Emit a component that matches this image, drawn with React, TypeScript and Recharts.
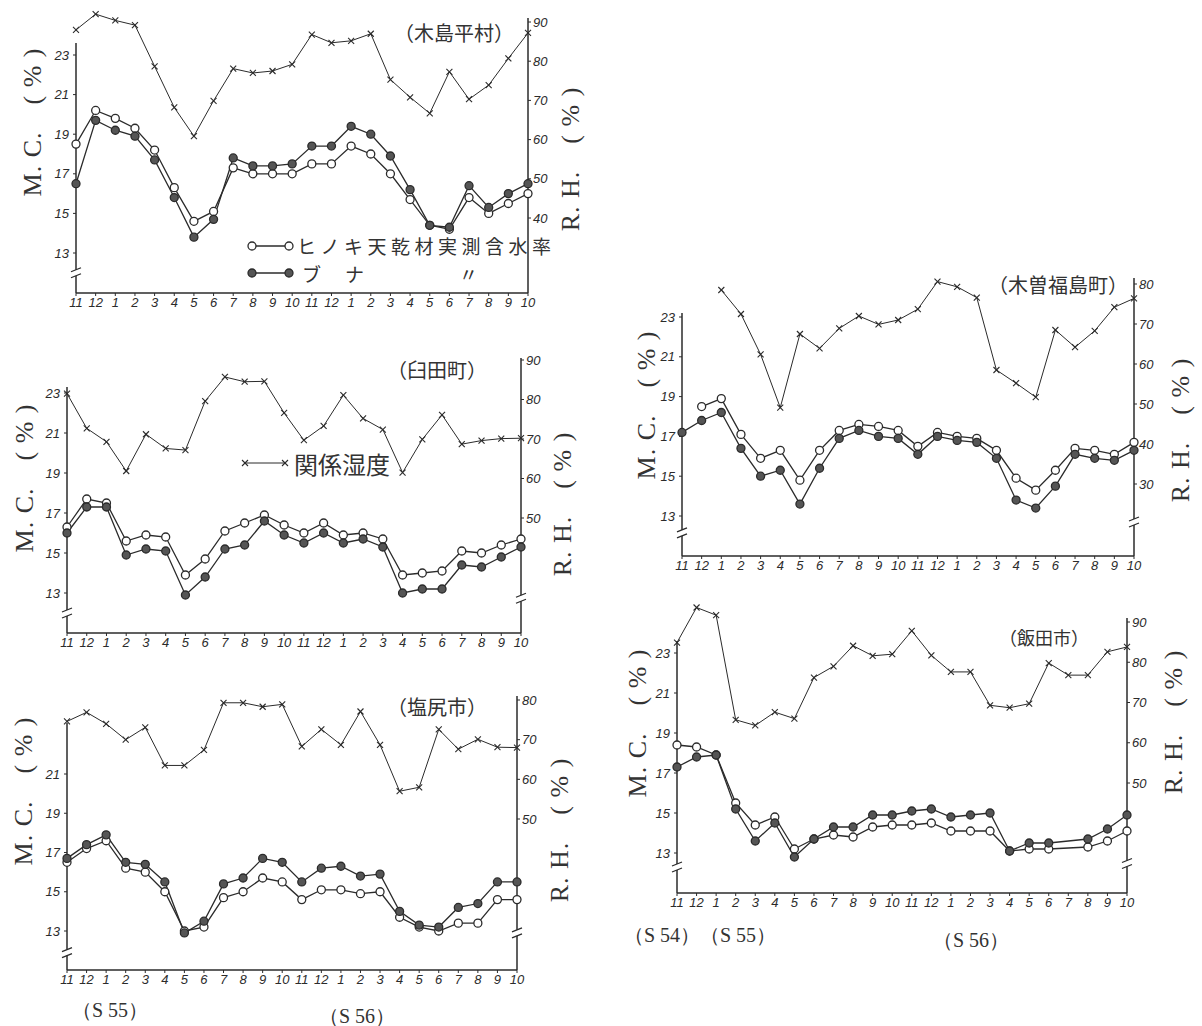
import React from 'react';
import { LineChart, Line, XAxis, YAxis, ReferenceLine, ReferenceDot } from 'recharts';

// months Nov (S54/55) .. Oct (S56), 24 points
const monthLabels = ['11', '12', '1', '2', '3', '4', '5', '6', '7', '8', '9', '10', '11', '12', '1', '2', '3', '4', '5', '6', '7', '8', '9', '10'];

// 木島平村
const kijimaHinoki = [18.5, 20.2, 19.8, 19.3, 18.2, 16.3, 14.6, 15.1, 17.3, 17.0, 17.0, 17.0, 17.5, 17.5, 18.4, 18.0, 17.0, 15.7, 14.4, 14.2, 15.8, 15.0, 15.5, 16.0];
const kijimaBuna = [16.5, 19.7, 19.2, 18.9, 17.7, 15.8, 13.8, 14.7, 17.8, 17.4, 17.4, 17.5, 18.4, 18.4, 19.4, 19.0, 17.9, 16.2, 14.4, 14.3, 16.4, 15.3, 16.0, 16.5];
const kijimaRH = [88.0, 92.0, 90.4, 89.2, 78.7, 68.2, 60.9, 69.9, 78.1, 77.0, 77.5, 79.2, 86.8, 84.7, 85.2, 87.0, 75.3, 70.8, 66.7, 77.3, 70.3, 73.9, 80.7, 87.2];

// 臼田町
const usudaHinoki = [16.3, 17.7, 17.5, 15.6, 15.9, 15.8, 13.9, 14.7, 16.1, 16.5, 16.9, 16.4, 16.0, 16.5, 15.9, 16.0, 15.7, 13.9, 14.0, 14.1, 15.1, 15.0, 15.4, 15.7];
const usudaBuna = [16.0, 17.3, 17.3, 14.9, 15.2, 15.1, 12.9, 13.8, 15.2, 15.4, 16.6, 15.9, 15.5, 16.0, 15.5, 15.7, 15.3, 13.0, 13.2, 13.2, 14.4, 14.3, 14.8, 15.3];
const usudaRH = [81.5, 72.7, 69.3, 61.9, 71.2, 67.6, 67.2, 79.6, 85.7, 84.5, 84.6, 76.6, 69.7, 73.3, 81.1, 75.2, 72.4, 61.5, 69.9, 76.1, 68.7, 69.6, 70.1, 70.2];

// 塩尻市
const shiojiriHinoki = [16.5, 17.2, 17.6, 16.2, 16.0, 15.0, 13.0, 13.2, 14.7, 15.0, 15.7, 15.5, 14.6, 15.1, 15.1, 14.9, 15.0, 13.7, 13.2, 13.0, 13.4, 13.4, 14.6, 14.6];
const shiojiriBuna = [16.7, 17.4, 17.9, 16.5, 16.4, 15.5, 12.9, 13.5, 15.4, 15.7, 16.7, 16.5, 15.5, 16.2, 16.3, 15.8, 15.9, 14.0, 13.3, 13.2, 14.2, 14.4, 15.5, 15.5];
const shiojiriRH = [74.6, 76.9, 74.0, 70.0, 73.1, 63.5, 63.5, 67.4, 79.3, 79.3, 78.3, 78.9, 68.3, 72.6, 68.7, 77.1, 68.7, 57.0, 58.0, 72.6, 67.6, 70.1, 68.1, 68.0];

// 木曽福島町
const kisoHinoki = [null, 18.5, 18.9, 17.1, 15.9, 16.3, 14.8, 16.3, 17.3, 17.6, 17.5, 17.3, 16.5, 17.2, 17.0, 16.9, 16.3, 14.9, 14.3, 15.3, 16.4, 16.3, 16.1, 16.7];
const kisoBuna = [17.2, 17.8, 18.2, 16.4, 15.0, 15.3, 13.6, 15.4, 16.9, 17.3, 17.0, 16.9, 16.1, 17.0, 16.8, 16.7, 15.9, 13.8, 13.4, 14.5, 16.1, 15.9, 15.8, 16.3];
const kisoRH = [null, null, 78.5, 72.5, 62.4, 49.1, 67.5, 63.9, 68.9, 72.0, 69.9, 71.0, 73.7, 80.6, 79.3, 76.6, 58.5, 55.2, 51.7, 68.5, 64.2, 68.3, 74.2, 76.4];

// 飯田市
const iidaHinoki = [18.4, 18.3, 17.9, 15.5, 14.4, 14.8, 13.2, 13.7, 13.9, 13.8, 14.3, 14.4, 14.4, 14.5, 14.1, 14.1, 14.1, 13.1, 13.2, 13.2, null, 13.3, 13.6, 14.1];
const iidaBuna = [17.3, 17.8, 17.9, 15.2, 13.6, 14.5, 12.8, 13.7, 14.3, 14.3, 14.9, 14.9, 15.1, 15.2, 14.8, 14.9, 15.0, 13.1, 13.5, 13.5, null, 13.7, 14.2, 14.9];
const iidaRH = [84.9, 93.6, 91.7, 65.7, 64.3, 67.6, 66.0, 76.2, 79.0, 84.1, 81.6, 82.0, 87.8, 81.7, 77.6, 77.6, 69.3, 68.7, 69.7, 79.8, 76.8, 76.8, 82.6, 83.8];

const mcTicksFull = [13, 15, 17, 19, 21, 23];

const INK = '#2b2b2b';
const AXIS_W = 50;
const X_H = 30;
const PAD_TOP = 12;
const JP = "'Noto Sans CJK JP', sans-serif";
const SERIF = "'Liberation Serif', serif";

// value range that puts vA at yA and vB at yB for a plot spanning top..bottom
function domainFrom(vA: number, yA: number, vB: number, yB: number, top: number, bottom: number): [number, number] {
  const k = (yA - yB) / (vB - vA);
  const at = (y: number) => vA + (yA - y) / k;
  return [at(bottom), at(top)];
}

const panels = [
  {
    hinoki: kijimaHinoki, buna: kijimaBuna, rh: kijimaRH,
    left: 76, right: 528, top: 10, bottom: 293,
    mc: [13, 253, 23, 55], rhCal: [40, 218, 90, 22],
    mcTicks: mcTicksFull, rhTicks: [40, 50, 60, 70, 80, 90], mcTop: 23.6, rhTop: 91,
    mcBreak: 12.0, rhBreak: null,
  },
  {
    hinoki: usudaHinoki, buna: usudaBuna, rh: usudaRH,
    left: 67, right: 521, top: 355, bottom: 633,
    mc: [13, 593, 23, 393], rhCal: [50, 518, 90, 360],
    mcTicks: mcTicksFull, rhTicks: [50, 60, 70, 80, 90], mcTop: 23.3, rhTop: 90.5,
    mcBreak: 12.0, rhBreak: 29.7,
  },
  {
    hinoki: shiojiriHinoki, buna: shiojiriBuna, rh: shiojiriRH,
    left: 67, right: 517, top: 690, bottom: 970,
    mc: [13, 931, 21, 774], rhCal: [50, 819, 80, 700],
    mcTicks: [13, 15, 17, 19, 21], rhTicks: [50, 60, 70, 80], mcTop: 23.6, rhTop: 81,
    mcBreak: 11.9, rhBreak: 21.3,
  },
  {
    hinoki: kisoHinoki, buna: kisoBuna, rh: kisoRH,
    left: 682, right: 1134, top: 276, bottom: 556,
    mc: [13, 516, 23, 317], rhCal: [30, 484, 80, 284],
    mcTicks: mcTicksFull, rhTicks: [30, 40, 50, 60, 70, 80], mcTop: 23.2, rhTop: 81.5,
    mcBreak: 12.15, rhBreak: 20.5,
  },
  {
    hinoki: iidaHinoki, buna: iidaBuna, rh: iidaRH,
    left: 677, right: 1127, top: 600, bottom: 893,
    mc: [13, 853, 23, 653], rhCal: [50, 783, 90, 622],
    mcTicks: mcTicksFull, rhTicks: [50, 60, 70, 80, 90], mcTop: 23.6, rhTop: 91,
    mcBreak: 12.3, rhBreak: 30,
  },
];

const MC_LABEL = 'M. C.\u2003( % )';
const RH_LABEL = 'R. H.\u2003( % )';

const labels = [
  { t: '（木島平村）', x: 454, y: 33, s: 20 },
  { t: '（臼田町）', x: 437, y: 370, s: 20 },
  { t: '（塩尻市）', x: 437, y: 707, s: 20 },
  { t: '（木曽福島町）', x: 1058, y: 285, s: 20 },
  { t: '（飯田市）', x: 1044, y: 637, s: 18 },
  { t: MC_LABEL, x: 33, y: 122, s: 26, rot: true, f: SERIF },
  { t: RH_LABEL, x: 571, y: 159, s: 26, rot: true, f: SERIF },
  { t: MC_LABEL, x: 25, y: 478, s: 26, rot: true, f: SERIF },
  { t: RH_LABEL, x: 563, y: 504, s: 26, rot: true, f: SERIF },
  { t: MC_LABEL, x: 24, y: 791, s: 26, rot: true, f: SERIF },
  { t: RH_LABEL, x: 560, y: 830, s: 26, rot: true, f: SERIF },
  { t: MC_LABEL, x: 647, y: 405, s: 26, rot: true, f: SERIF },
  { t: RH_LABEL, x: 1181, y: 430, s: 26, rot: true, f: SERIF },
  { t: MC_LABEL, x: 638, y: 723, s: 26, rot: true, f: SERIF },
  { t: RH_LABEL, x: 1174, y: 722, s: 26, rot: true, f: SERIF },
  { t: '（S 55）', x: 110, y: 1010, s: 20, f: SERIF },
  { t: '（S 56）', x: 357, y: 1016, s: 20, f: SERIF },
  { t: '（S 54）（S 55）', x: 700, y: 935, s: 20, f: SERIF },
  { t: '（S 56）', x: 971, y: 940, s: 20, f: SERIF },
];

const CrossDot = (props: any) => {
  const { cx, cy, index, value } = props;
  if (cx == null || cy == null || value == null) return <g key={`c${index}`} />;
  const s = 3;
  return (
    <g key={`c${index}`}>
      <line x1={cx - s} y1={cy - s} x2={cx + s} y2={cy + s} stroke={INK} strokeWidth={1.1} />
      <line x1={cx - s} y1={cy + s} x2={cx + s} y2={cy - s} stroke={INK} strokeWidth={1.1} />
    </g>
  );
};

// axis break "≈" drawn over the axis line
const BreakMark = (props: any) => {
  const { cx, cy } = props;
  if (cx == null || cy == null) return <g />;
  return (
    <g>
      <rect x={cx - 5} y={cy - 3} width={10} height={6} fill="#fff" />
      <line x1={cx - 5} y1={cy - 1} x2={cx + 5} y2={cy - 5} stroke={INK} strokeWidth={1.2} />
      <line x1={cx - 5} y1={cy + 5} x2={cx + 5} y2={cy + 1} stroke={INK} strokeWidth={1.2} />
    </g>
  );
};

const tickStyle = { fill: INK, fontSize: 13, fontStyle: 'italic', fontFamily: "'Liberation Sans', sans-serif" };
const idx = monthLabels.map((_, i) => i);

function Panel({ p }: { p: any }) {
  const data = monthLabels.map((m, i) => ({ i, m, hinoki: p.hinoki[i], buna: p.buna[i], rh: p.rh[i] }));
  const mcDomain = domainFrom(p.mc[0], p.mc[1], p.mc[2], p.mc[3], p.top, p.bottom);
  const rhDomain = domainFrom(p.rhCal[0], p.rhCal[1], p.rhCal[2], p.rhCal[3], p.top, p.bottom);
  const width = p.right - p.left + AXIS_W * 2;
  const height = p.bottom - p.top + X_H + PAD_TOP;
  return (
    <div style={{ position: 'absolute', left: p.left - AXIS_W, top: p.top - PAD_TOP }}>
      <LineChart width={width} height={height} data={data} margin={{ top: PAD_TOP, right: 0, bottom: 0, left: 0 }}>
        <XAxis
          dataKey="i"
          type="number"
          domain={[0, 23]}
          ticks={idx}
          interval={0}
          tickFormatter={(v: number) => monthLabels[v]}
          height={X_H}
          axisLine={{ stroke: INK, strokeWidth: 1.5 }}
          tickLine={{ stroke: INK }}
          tickSize={3}
          tickMargin={2}
          tick={tickStyle}
        />
        <YAxis
          yAxisId="mc"
          orientation="left"
          width={AXIS_W}
          type="number"
          domain={mcDomain}
          allowDataOverflow
          ticks={p.mcTicks}
          interval={0}
          axisLine={false}
          tickLine={{ stroke: INK }}
          tickSize={3}
          tickMargin={4}
          tick={tickStyle}
        />
        <YAxis
          yAxisId="rh"
          orientation="right"
          width={AXIS_W}
          type="number"
          domain={rhDomain}
          allowDataOverflow
          ticks={p.rhTicks}
          interval={0}
          axisLine={false}
          tickLine={{ stroke: INK }}
          tickSize={3}
          tickMargin={2}
          tick={tickStyle}
        />
        <ReferenceLine
          yAxisId="mc"
          ifOverflow="visible"
          segment={[{ x: 0, y: mcDomain[0] }, { x: 0, y: p.mcTop }]}
          stroke={INK}
          strokeWidth={1.5}
        />
        <ReferenceLine
          yAxisId="rh"
          ifOverflow="visible"
          segment={[{ x: 23, y: rhDomain[0] }, { x: 23, y: p.rhTop }]}
          stroke={INK}
          strokeWidth={1.5}
        />
        <ReferenceDot yAxisId="mc" x={0} y={p.mcBreak} ifOverflow="visible" shape={BreakMark} />
        {p.rhBreak != null && (
          <ReferenceDot yAxisId="rh" x={23} y={p.rhBreak} ifOverflow="visible" shape={BreakMark} />
        )}
        <Line
          yAxisId="rh"
          dataKey="rh"
          stroke={INK}
          strokeWidth={1}
          dot={CrossDot}
          activeDot={false}
          isAnimationActive={false}
        />
        <Line
          yAxisId="mc"
          dataKey="hinoki"
          stroke={INK}
          strokeWidth={1.3}
          connectNulls
          dot={{ r: 4, fill: '#fff', stroke: INK, strokeWidth: 1.3 }}
          activeDot={false}
          isAnimationActive={false}
        />
        <Line
          yAxisId="mc"
          dataKey="buna"
          stroke={INK}
          strokeWidth={1.3}
          connectNulls
          dot={{ r: 4, fill: '#555', stroke: INK, strokeWidth: 1.3 }}
          activeDot={false}
          isAnimationActive={false}
        />
      </LineChart>
    </div>
  );
}

const legendLine = {
  position: 'absolute' as const,
  fontSize: 19,
  fontFamily: JP,
  color: '#333',
  lineHeight: '20px',
  height: 20,
  whiteSpace: 'nowrap' as const,
};

export default function App() {
  return (
    <div style={{ position: 'absolute', left: 0, top: 0, width: 1202, height: 1026, background: '#fff', overflow: 'hidden' }}>
      {panels.map((p, k) => (
        <Panel key={k} p={p} />
      ))}
      {labels.map((l, k) => (
        <div
          key={k}
          style={{
            position: 'absolute',
            left: l.x,
            top: l.y,
            transform: `translate(-50%, -50%)${l.rot ? ' rotate(-90deg)' : ''}`,
            whiteSpace: 'pre',
            fontSize: l.s,
            fontFamily: l.f || JP,
            letterSpacing: l.rot ? 1 : 0,
            color: '#333',
            lineHeight: 1,
          }}
        >
          {l.t}
        </div>
      ))}
      {/* legend: MC series */}
      <svg style={{ position: 'absolute', left: 245, top: 236 }} width={50} height={48}>
        <line x1={7} y1={10} x2={44} y2={10} stroke={INK} strokeWidth={1.3} />
        <circle cx={7} cy={10} r={4} fill="#fff" stroke={INK} strokeWidth={1.3} />
        <circle cx={44} cy={10} r={4} fill="#fff" stroke={INK} strokeWidth={1.3} />
        <line x1={7} y1={37} x2={44} y2={37} stroke={INK} strokeWidth={1.3} />
        <circle cx={7} cy={37} r={4} fill="#555" stroke={INK} strokeWidth={1.3} />
        <circle cx={44} cy={37} r={4} fill="#555" stroke={INK} strokeWidth={1.3} />
      </svg>
      <div style={{ ...legendLine, left: 297, top: 236, letterSpacing: 4.5 }}>ヒノキ天乾材実測含水率</div>
      <div style={{ ...legendLine, left: 302, top: 264, width: 20 }}>ブ</div>
      <div style={{ ...legendLine, left: 345, top: 264, width: 20 }}>ナ</div>
      <div style={{ ...legendLine, left: 459, top: 264, width: 20 }}>〃</div>
      {/* legend: RH */}
      <svg style={{ position: 'absolute', left: 240, top: 455 }} width={50} height={16}>
        <line x1={5} y1={8} x2={45} y2={8} stroke={INK} strokeWidth={1} />
        <line x1={2} y1={5} x2={8} y2={11} stroke={INK} strokeWidth={1.1} />
        <line x1={2} y1={11} x2={8} y2={5} stroke={INK} strokeWidth={1.1} />
        <line x1={42} y1={5} x2={48} y2={11} stroke={INK} strokeWidth={1.1} />
        <line x1={42} y1={11} x2={48} y2={5} stroke={INK} strokeWidth={1.1} />
      </svg>
      <div style={{ ...legendLine, left: 294, top: 452, fontSize: 24, lineHeight: '24px', height: 24 }}>関係湿度</div>
    </div>
  );
}
